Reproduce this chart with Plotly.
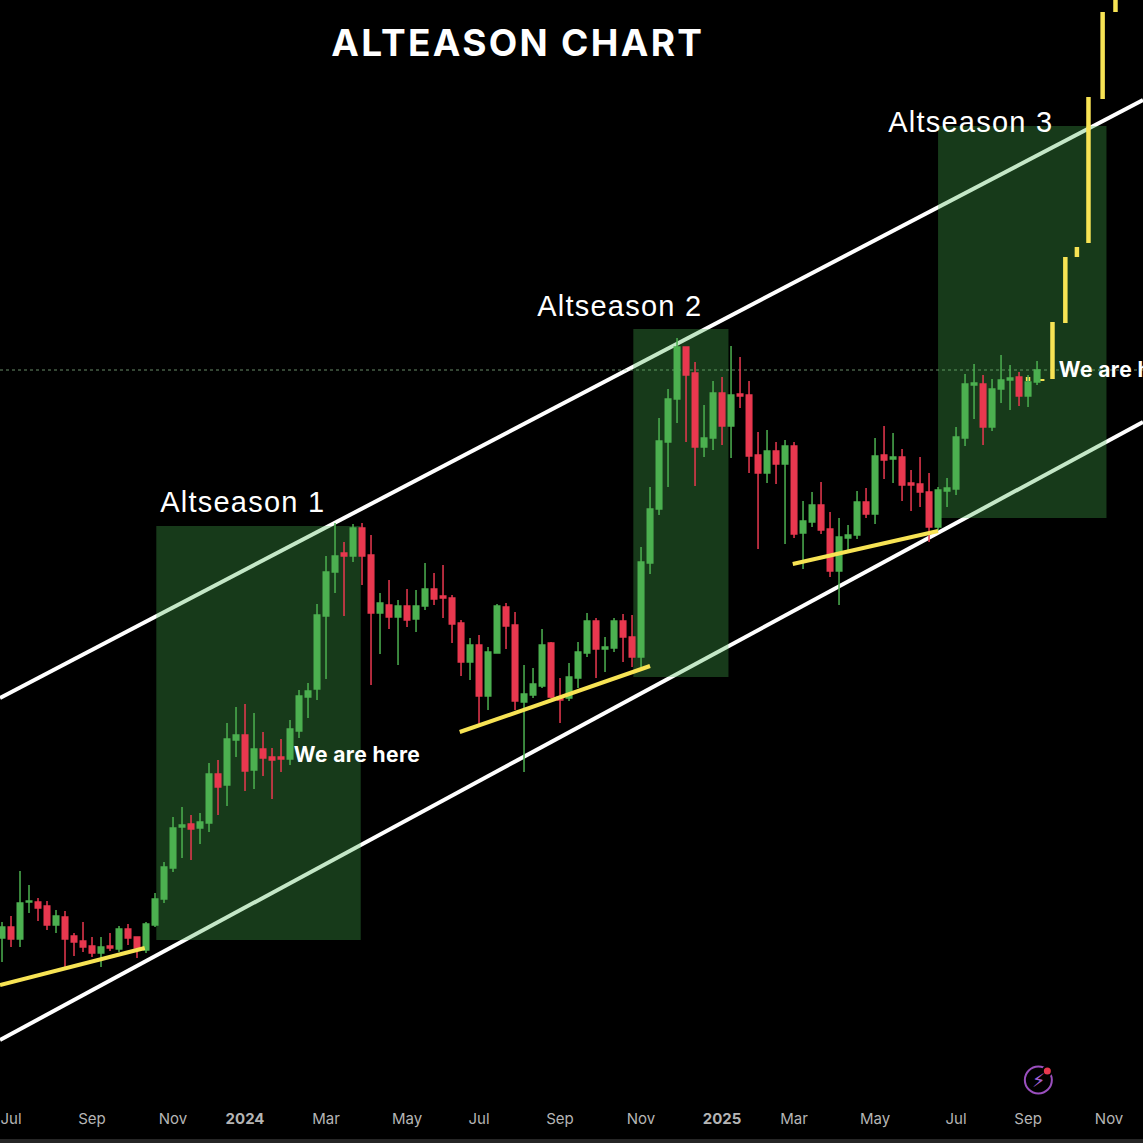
import pandas as pd
import plotly.graph_objects as go

# weekly candles, price scale has no labels in the source so units are arbitrary
dates = pd.date_range("2023-06-23", periods=116, freq="7D")
opens = [205, 216, 204, 241, 241, 237, 218, 226, 207, 202, 197, 190, 197, 194, 214, 206, 193, 218, 244, 275,
         316, 319, 315, 320, 369, 358, 403, 408, 373, 394, 386, 386, 384, 412, 446, 454, 527, 571, 590, 587,
         615, 588, 530, 538, 526, 537, 524, 537, 554, 547, 545, 520, 481, 498, 447, 490, 536, 518, 441, 448,
         457, 500, 446, 445, 465, 490, 522, 494, 495, 522, 506, 486, 580, 634, 701, 744, 796, 770, 696, 705,
         750, 717, 749, 748, 688, 670, 692, 679, 697, 610, 621, 638, 614, 572, 605, 608, 641, 629, 688, 684,
         686, 660, 659, 651, 616, 652, 654, 705, 758, 759, 716, 754, 763, 766, 747, 761]
highs = [221, 227, 272, 258, 245, 242, 233, 232, 210, 221, 206, 206, 210, 217, 219, 206, 221, 250, 281, 326,
         336, 328, 330, 380, 383, 420, 436, 439, 430, 411, 395, 404, 423, 453, 460, 539, 587, 620, 601, 619,
         620, 608, 550, 563, 543, 554, 553, 580, 570, 578, 548, 523, 505, 508, 496, 539, 540, 531, 478, 475,
         514, 501, 465, 480, 501, 530, 525, 506, 525, 529, 528, 596, 656, 725, 754, 805, 796, 781, 738, 762,
         766, 797, 786, 762, 711, 713, 701, 703, 701, 642, 651, 661, 631, 625, 618, 652, 655, 705, 717, 710,
         694, 673, 686, 670, 656, 665, 716, 769, 779, 768, 764, 788, 778, 771, 768, 782]
lows = [181, 196, 196, 230, 222, 213, 210, 176, 187, 191, 186, 176, 192, 191, 198, 185, 190, 216, 240, 271,
        285, 283, 299, 311, 328, 337, 386, 352, 354, 367, 344, 371, 378, 405, 425, 443, 464, 550, 527, 581,
        558, 458, 489, 514, 478, 516, 511, 533, 538, 525, 500, 467, 463, 416, 433, 490, 494, 433, 371, 445,
        455, 445, 420, 442, 455, 486, 465, 471, 491, 481, 476, 476, 569, 628, 656, 720, 701, 657, 686, 693,
        698, 685, 735, 670, 594, 660, 659, 599, 605, 574, 616, 609, 566, 538, 590, 604, 625, 619, 664, 660,
        642, 632, 636, 601, 613, 636, 648, 697, 724, 698, 712, 740, 733, 737, 736, 758]
closes = [216, 204, 240, 242, 235, 218, 227, 204, 201, 196, 190, 196, 195, 214, 205, 195, 219, 244, 276, 315,
          318, 314, 321, 369, 356, 404, 408, 372, 394, 385, 383, 384, 414, 447, 452, 528, 571, 587, 587, 615,
          587, 530, 540, 526, 537, 523, 537, 554, 544, 545, 519, 481, 498, 447, 491, 537, 517, 442, 449, 459,
          498, 446, 443, 466, 491, 522, 494, 496, 522, 506, 486, 581, 634, 702, 744, 796, 768, 696, 705, 750,
          717, 748, 747, 687, 670, 692, 679, 697, 609, 622, 638, 613, 572, 606, 608, 641, 629, 687, 683, 686,
          658, 658, 651, 616, 653, 655, 706, 759, 760, 716, 754, 763, 765, 747, 761, 773]

# projected path drawn in yellow
proj_dates = ["2025-08-29", "2025-09-09", "2025-09-17", "2025-09-27", "2025-10-06", "2025-10-15", "2025-10-26", "2025-11-05"]
proj_low = [762, 762, 764, 820, 886, 900, 1044, 1131]
proj_high = [766, 764, 821, 886, 896, 1046, 1131, 1170]

# channel lines
x_ends = ["2023-06-21 10:30", "2025-11-26 09:36"]
upper_line = [445, 1043]
lower_line = [103, 721]

# yellow support lines
support_x = [["2023-06-21 10:30", "2023-10-12"], ["2024-06-13", "2024-11-08"], ["2025-02-27", "2025-06-20"]]
support_y = [[158, 195], [411, 477], [579, 612]]

# green altseason boxes
box_x0 = ["2023-10-21", "2024-10-26", "2025-06-20"]
box_x1 = ["2024-03-28", "2025-01-08", "2025-10-29"]
box_y0 = [203, 466, 625]
box_y1 = [617, 814, 1017]

season_labels = ["Altseason 1", "Altseason 2", "Altseason 3"]
season_x = ["2023-10-28", "2024-08-16", "2025-05-16"]
season_y = [641, 837, 1021]

last_price = 773

# the chart puts its month labels on the first candle of the month
tick_dates = ["2023-06-30", "2023-09-01", "2023-11-03", "2023-12-29", "2024-03-01", "2024-05-03", "2024-06-28",
              "2024-08-30", "2024-11-01", "2025-01-03", "2025-02-28", "2025-05-02", "2025-07-04", "2025-08-29",
              "2025-10-31"]
tick_labels = ["Jul", "Sep", "Nov", "<b>2024</b>", "Mar", "May", "Jul", "Sep", "Nov", "<b>2025</b>", "Mar", "May",
               "Jul", "Sep", "Nov"]

GREEN = "#4CB050"
RED = "#E8384F"
YELLOW = "#F7E354"

fig = go.Figure()

fig.add_trace(go.Bar(x=proj_dates, y=[h - l for h, l in zip(proj_high, proj_low)], base=proj_low,
                     width=3.5 * 86400000, marker=dict(color=YELLOW, line=dict(width=0)), showlegend=False))

fig.add_trace(go.Candlestick(x=dates, open=opens, high=highs, low=lows, close=closes,
                             increasing=dict(line=dict(color=GREEN, width=1.5), fillcolor=GREEN),
                             decreasing=dict(line=dict(color=RED, width=1.5), fillcolor=RED),
                             showlegend=False))

for sx, sy in zip(support_x, support_y):
    fig.add_trace(go.Scatter(x=sx, y=sy, mode="lines", line=dict(color=YELLOW, width=4), showlegend=False))

# lightning badge bottom right
fig.add_trace(go.Scatter(x=["2025-09-06"], y=[63], mode="markers",
                         marker=dict(symbol="circle-open", size=27, color="#9A4FBE", line=dict(width=2)),
                         showlegend=False))
fig.add_trace(go.Scatter(x=["2025-09-13"], y=[72], mode="markers",
                         marker=dict(size=9, color="#E8384F", line=dict(color="black", width=2)),
                         showlegend=False))

# lines go under the boxes so they get the green tint
for y_pair in (upper_line, lower_line):
    fig.add_shape(type="line", x0=x_ends[0], x1=x_ends[1], y0=y_pair[0], y1=y_pair[1], layer="below",
                  line=dict(color="white", width=4))
fig.add_shape(type="line", x0=x_ends[0], x1=x_ends[1], y0=last_price, y1=last_price, layer="below",
              line=dict(color="rgba(150,200,150,0.7)", width=1, dash="dot"))
for x0, x1, y0, y1 in zip(box_x0, box_x1, box_y0, box_y1):
    fig.add_shape(type="rect", x0=x0, x1=x1, y0=y0, y1=y1, layer="below",
                  fillcolor="rgba(70,180,80,0.32)", line=dict(width=0))

# bottom strip
fig.add_shape(type="rect", xref="paper", yref="paper", x0=0, x1=1, y0=-0.0325, y1=-0.0279,
              fillcolor="#262626", line=dict(width=0))

for label, lx, ly in zip(season_labels, season_x, season_y):
    fig.add_annotation(x=lx, y=ly, text=label, showarrow=False, xanchor="left", yanchor="middle",
                       font=dict(family="Liberation Sans", size=29, color="white"))
for lx, ly in zip(["2024-02-05", "2025-09-22"], [389, 774]):
    fig.add_annotation(x=lx, y=ly, text="<b>We are here</b>", showarrow=False, xanchor="left", yanchor="middle",
                       font=dict(family="Inter", size=21, color="white"))
fig.add_annotation(x="2025-09-06", y=63, text="⚡", showarrow=False,
                   font=dict(family="DejaVu Sans", size=19, color="#A45FD0"))

fig.update_layout(
    width=1143, height=1143,
    margin=dict(l=0, r=0, t=0, b=35),
    paper_bgcolor="black", plot_bgcolor="black",
    boxgap=0.12, showlegend=False, hovermode=False,
    title=dict(text="<b>ALTEASON CHART</b>", x=0.453, xanchor="center", y=0.9624, yanchor="middle",
               font=dict(family="Inter", size=37, color="white")),
    xaxis=dict(type="date", range=x_ends, rangeslider=dict(visible=False), showgrid=False, zeroline=False,
               showline=False, ticks="", tickmode="array", tickvals=tick_dates, ticktext=tick_labels,
               tickfont=dict(family="Inter", size=15, color="#B5B5B5")),
    yaxis=dict(range=[35, 1143], visible=False, showgrid=False, zeroline=False),
)

# plotly has no letter spacing option, the source text is tracked out a bit
post = """
document.body.style.margin='0';document.body.style.background='black';
document.querySelectorAll('.gtitle').forEach(t=>{t.style.letterSpacing='2.3px';});
document.querySelectorAll('.annotation-text').forEach(t=>{
  if(t.textContent.startsWith('Altseason')){t.style.letterSpacing='1.25px';}
  else if(t.textContent.startsWith('We')){t.style.letterSpacing='0.4px';}
});
"""
fig.write_html("out.html", config=dict(displayModeBar=False), post_script=post)
